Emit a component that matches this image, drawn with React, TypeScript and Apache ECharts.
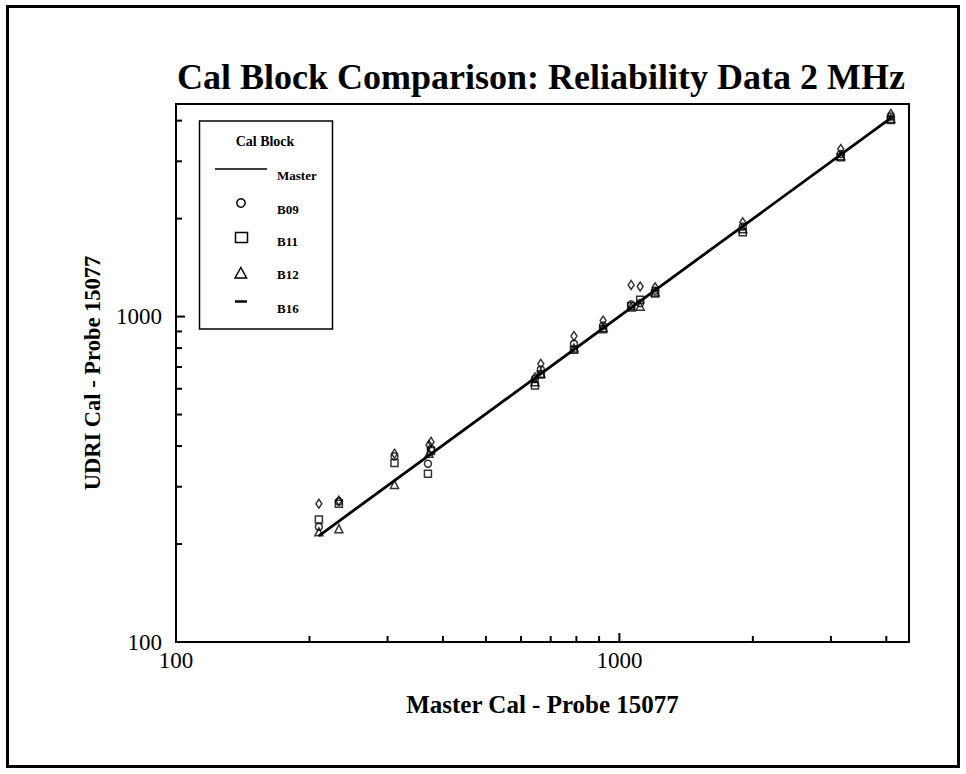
import React, { useEffect, useRef } from 'react';
import * as echarts from 'echarts';

const titleText = 'Cal Block Comparison: Reliability Data 2 MHz';
const xAxisTitle = 'Master Cal - Probe 15077';
const yAxisTitle = 'UDRI Cal - Probe 15077';
const legendTitle = 'Cal Block';
const axisMin = 100;
const axisMax = 4500;
const majorTicks = [100, 1000];
const minorTicks = [200, 300, 400, 500, 600, 700, 800, 900, 2000, 3000, 4000];

const masterX = [210, 4100];
const masterY = [212, 4080];

const b09X = [210, 233, 311, 370, 376, 645, 665, 790, 919, 1063, 1114, 1204, 1898, 3157, 4095];
const b09Y = [226, 270, 372, 353, 392, 643, 688, 825, 938, 1090, 1100, 1201, 1890, 3160, 4120];

const b11X = [210, 233, 311, 370, 376, 645, 665, 790, 919, 1063, 1114, 1204, 1898, 3157, 4095];
const b11Y = [238, 266, 355, 329, 386, 614, 664, 791, 915, 1075, 1126, 1177, 1815, 3085, 4017];

const b12X = [210, 233, 311, 372, 645, 665, 790, 919, 1063, 1114, 1204, 1898, 3157, 4095];
const b12Y = [218, 223, 305, 380, 630, 670, 800, 925, 1070, 1076, 1190, 1860, 3120, 4060];

const b16X = [210, 233, 311, 372, 376, 645, 665, 790, 919, 1063, 1114, 1204, 1898, 3157, 4095];
const b16Y = [266, 272, 379, 403, 412, 650, 716, 871, 972, 1251, 1237, 1230, 1948, 3273, 4193];

const legendNames = ['Master', 'B09', 'B11', 'B12', 'B16'];

const FONT = '"Liberation Serif", "Times New Roman", serif';
const MAJOR_LEN = 9;
const MINOR_LEN = 6;

const zip = (xs: number[], ys: number[]) => xs.map((x, i) => [x, ys[i]]);

const hollow = {
  color: 'rgba(0,0,0,0)',
  borderColor: '#000',
  borderWidth: 1.5,
};

export default function App() {
  const ref = useRef<HTMLDivElement>(null);

  useEffect(() => {
    document.body.style.margin = '0';
    if (!ref.current) return;
    const chart = echarts.init(ref.current, undefined, { renderer: 'svg' });

    const baseAxis = (extra: any) => ({
      type: 'log',
      logBase: 10,
      min: axisMin,
      max: axisMax,
      splitLine: { show: false },
      axisTick: { show: false },
      ...extra,
    });

    const xTickData = [
      ...majorTicks.map((v) => [v, axisMin, MAJOR_LEN]),
      ...minorTicks.map((v) => [v, axisMin, MINOR_LEN]),
    ];
    const yTickData = [
      ...majorTicks.map((v) => [axisMin, v, MAJOR_LEN]),
      ...minorTicks.map((v) => [axisMin, v, MINOR_LEN]),
    ];

    const option: any = {
      animation: false,
      backgroundColor: '#fff',
      title: {
        text: titleText,
        left: 177,
        top: 59,
        padding: 0,
        textStyle: { fontFamily: FONT, fontSize: 36, fontWeight: 'bold', color: '#000' },
      },
      grid: {
        left: 176,
        right: 57,
        top: 104,
        bottom: 132,
        show: true,
        borderColor: '#000',
        borderWidth: 2,
        backgroundColor: 'rgba(0,0,0,0)',
      },
      xAxis: baseAxis({
        position: 'bottom',
        name: xAxisTitle,
        nameLocation: 'middle',
        nameGap: 50,
        nameTextStyle: { fontFamily: FONT, fontSize: 25, fontWeight: 'bold', color: '#000' },
        axisLine: { show: true, lineStyle: { color: '#000', width: 2 } },
        axisLabel: {
          show: true,
          customValues: majorTicks,
          formatter: (v: number) => String(v),
          margin: 7,
          fontFamily: FONT,
          fontSize: 23,
          color: '#000',
        },
      }),
      yAxis: baseAxis({
        position: 'left',
        name: yAxisTitle,
        nameLocation: 'middle',
        nameGap: 72,
        nameTextStyle: { fontFamily: FONT, fontSize: 22.5, fontWeight: 'bold', color: '#000' },
        axisLine: { show: true, lineStyle: { color: '#000', width: 2 } },
        axisLabel: {
          show: true,
          customValues: majorTicks,
          formatter: (v: number) => String(v),
          margin: 14,
          padding: [12, 0, 0, 0],
          fontFamily: FONT,
          fontSize: 23,
          color: '#000',
        },
      }),
      series: [
        {
          name: legendNames[1],
          type: 'scatter',
          symbol: 'circle',
          symbolSize: 7,
          itemStyle: hollow,
          data: zip(b09X, b09Y),
        },
        {
          name: legendNames[2],
          type: 'scatter',
          symbol: 'rect',
          symbolSize: 7,
          itemStyle: hollow,
          data: zip(b11X, b11Y),
        },
        {
          name: legendNames[3],
          type: 'scatter',
          symbol: 'triangle',
          symbolSize: 8,
          itemStyle: hollow,
          data: zip(b12X, b12Y),
        },
        {
          name: legendNames[4],
          type: 'scatter',
          symbol: 'diamond',
          symbolSize: [6, 9],
          itemStyle: hollow,
          data: zip(b16X, b16Y),
        },
        {
          name: legendNames[0],
          type: 'line',
          symbol: 'none',
          lineStyle: { color: '#000', width: 2.8 },
          data: zip(masterX, masterY),
          z: 5,
        },
        {
          name: 'xTicks',
          type: 'custom',
          silent: true,
          z: 6,
          data: xTickData,
          encode: { x: 0, y: 1 },
          renderItem: (params: any, api: any) => {
            const p = api.coord([api.value(0), api.value(1)]);
            const len = api.value(2);
            return {
              type: 'line',
              shape: { x1: p[0], y1: p[1], x2: p[0], y2: p[1] - len },
              style: { stroke: '#000', lineWidth: 2 },
            };
          },
        },
        {
          name: 'yTicks',
          type: 'custom',
          silent: true,
          z: 6,
          data: yTickData,
          encode: { x: 0, y: 1 },
          renderItem: (params: any, api: any) => {
            const p = api.coord([api.value(0), api.value(1)]);
            const len = api.value(2);
            return {
              type: 'line',
              shape: { x1: p[0], y1: p[1], x2: p[0] + len, y2: p[1] },
              style: { stroke: '#000', lineWidth: 2 },
            };
          },
        },
      ],
      graphic: [
        {
          type: 'rect',
          shape: { x: 7.5, y: 6.5, width: 951, height: 760 },
          style: { fill: 'none', stroke: '#000', lineWidth: 3 },
          silent: true,
        },
        {
          type: 'group',
          z: 100,
          children: [
            { type: 'rect', shape: { x: 199.5, y: 121, width: 133, height: 208 }, style: { fill: '#fff', stroke: '#000', lineWidth: 1.5 } },
            { type: 'text', x: 265, y: 141, style: { text: legendTitle, font: `bold 14px ${FONT}`, fill: '#000', align: 'center', verticalAlign: 'middle' } },
            { type: 'line', shape: { x1: 215, y1: 169, x2: 267, y2: 169 }, style: { stroke: '#000', lineWidth: 1.5 } },
            { type: 'text', x: 277, y: 175, style: { text: legendNames[0], font: `bold 13px ${FONT}`, fill: '#000', align: 'left', verticalAlign: 'middle' } },
            { type: 'circle', shape: { cx: 241, cy: 203, r: 4.2 }, style: { fill: 'none', stroke: '#000', lineWidth: 1.5 } },
            { type: 'text', x: 277, y: 209, style: { text: legendNames[1], font: `bold 13px ${FONT}`, fill: '#000', align: 'left', verticalAlign: 'middle' } },
            { type: 'rect', shape: { x: 235.5, y: 232.5, width: 12, height: 10 }, style: { fill: 'none', stroke: '#000', lineWidth: 1.5 } },
            { type: 'text', x: 277, y: 241, style: { text: legendNames[2], font: `bold 13px ${FONT}`, fill: '#000', align: 'left', verticalAlign: 'middle' } },
            { type: 'polygon', shape: { points: [[240.8, 267.5], [235, 278], [246.6, 278]] }, style: { fill: 'none', stroke: '#000', lineWidth: 1.5 } },
            { type: 'text', x: 277, y: 274, style: { text: legendNames[3], font: `bold 13px ${FONT}`, fill: '#000', align: 'left', verticalAlign: 'middle' } },
            { type: 'line', shape: { x1: 235, y1: 301.5, x2: 247, y2: 301.5 }, style: { stroke: '#000', lineWidth: 2.5 } },
            { type: 'text', x: 277, y: 308, style: { text: legendNames[4], font: `bold 13px ${FONT}`, fill: '#000', align: 'left', verticalAlign: 'middle' } },
          ],
        },
      ],
    };

    chart.setOption(option);
    return () => {
      chart.dispose();
    };
  }, []);

  return <div ref={ref} style={{ width: 966, height: 774 }} />;
}
